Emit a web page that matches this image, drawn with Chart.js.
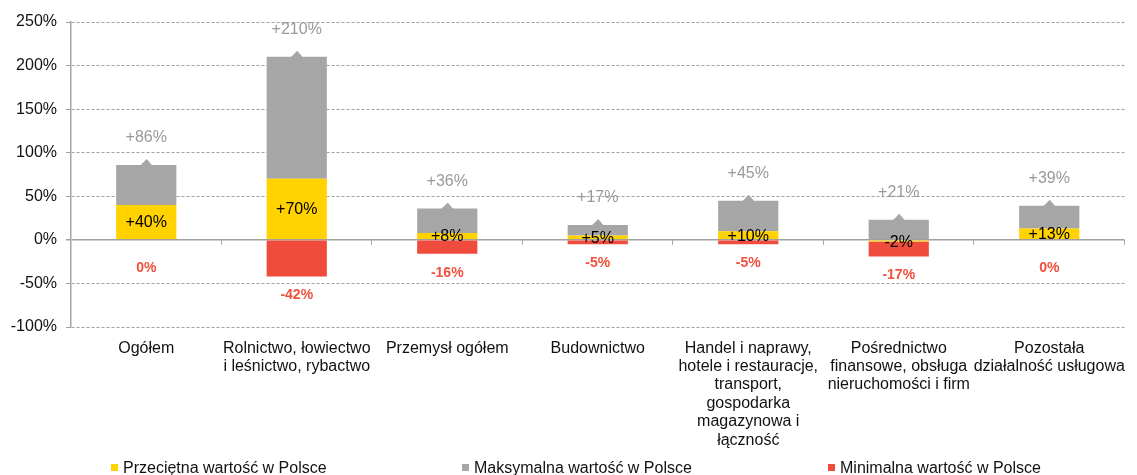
<!DOCTYPE html>
<html>
<head>
<meta charset="utf-8">
<script src="https://cdn.jsdelivr.net/npm/chart.js@4.4.1/dist/chart.umd.min.js"></script>
<style>
  html, body { margin: 0; padding: 0; background: #fff; }
  #wrap { position: relative; width: 1137px; height: 475px; overflow: hidden; }
  #c { position: absolute; left: 0; top: 0; }
  .leg { position: absolute; top: 459px; height: 18px; line-height: 18px;
         font-family: 'Liberation Sans', Arial, sans-serif; font-size: 16px; color: #111; white-space: nowrap; }
  .leg i { position: absolute; left: 0; top: 5px; width: 7px; height: 7px; }
  .leg span { position: absolute; left: 12px; top: 0; }
</style>
</head>
<body>
<div id="wrap">
  <canvas id="c" width="1137" height="475"></canvas>
  <div class="leg" id="leg0" style="left:111px"><i></i><span></span></div>
  <div class="leg" id="leg1" style="left:462px"><i></i><span></span></div>
  <div class="leg" id="leg2" style="left:828px"><i></i><span></span></div>
</div>
<script>
// ---- data ----
const categories = [
  'Ogółem',
  ['Rolnictwo, łowiectwo', 'i leśnictwo, rybactwo'],
  'Przemysł ogółem',
  'Budownictwo',
  ['Handel i naprawy,', 'hotele i restauracje,', 'transport,', 'gospodarka', 'magazynowa i', 'łączność'],
  ['Pośrednictwo', 'finansowe, obsługa', 'nieruchomości i firm'],
  ['Pozostała', 'działalność usługowa']
];
const avgValues = [40, 70, 8, 5, 10, -2, 13];
const maxValues = [86, 210, 36, 17, 45, 21, 39];
const minValues = [0, -42, -16, -5, -5, -17, 0];
const yTickValues = [-100, -50, 0, 50, 100, 150, 200, 250];
const seriesNames = ['Przeciętna wartość w Polsce', 'Maksymalna wartość w Polsce', 'Minimalna wartość w Polsce'];
const seriesColors = ['#FFD200', '#A6A6A6', '#EF4C3D'];

// grey segment stacks on top of the average value up to the maximum
const greySegment = maxValues.map((m, i) => m - avgValues[i]);

// legend
seriesNames.forEach((n, i) => {
  const el = document.getElementById('leg' + i);
  el.querySelector('i').style.background = seriesColors[i];
  el.querySelector('span').textContent = n;
});

const FONT = "'Liberation Sans', Arial, sans-serif";
Chart.defaults.font.family = FONT;
Chart.defaults.font.size = 16;
Chart.defaults.color = '#111';

const fmtSigned = v => (v > 0 ? '+' + v : '' + v) + '%';

const annotate = {
  id: 'annotate',
  afterDatasetsDraw(chart) {
    const ctx = chart.ctx;
    const xs = chart.scales.x, ys = chart.scales.y;
    const y0 = ys.getPixelForValue(0);
    ctx.save();
    // small tick marks on the zero line at category boundaries
    ctx.strokeStyle = '#A6A6A6';
    ctx.lineWidth = 1;
    const n = categories.length;
    for (let i = 1; i <= n; i++) {
      const x = Math.round(xs.left + i * xs.width / n) - 0.5;
      ctx.beginPath(); ctx.moveTo(x, y0); ctx.lineTo(x, y0 + 5); ctx.stroke();
    }
    // callout peaks on top of grey bars
    const greyMeta = chart.getDatasetMeta(1);
    ctx.fillStyle = seriesColors[1];
    greyMeta.data.forEach(el => {
      ctx.beginPath();
      ctx.moveTo(el.x - 6, el.y + 0.5);
      ctx.lineTo(el.x + 0.5, el.y - 6);
      ctx.lineTo(el.x + 6, el.y + 0.5);
      ctx.closePath();
      ctx.fill();
    });
    ctx.textAlign = 'center';
    ctx.textBaseline = 'middle';
    // max labels
    ctx.font = '16px ' + FONT;
    ctx.fillStyle = '#999999';
    greyMeta.data.forEach((el, i) => {
      ctx.fillText(fmtSigned(maxValues[i]), el.x, el.y - 27);
    });
    // average labels
    ctx.fillStyle = '#000';
    chart.getDatasetMeta(0).data.forEach((el, i) => {
      ctx.fillText(fmtSigned(avgValues[i]), el.x, (el.y + el.base) / 2 + 1);
    });
    // min labels
    ctx.font = 'bold 14px ' + FONT;
    ctx.fillStyle = '#F0503C';
    chart.getDatasetMeta(2).data.forEach((el, i) => {
      const v = minValues[i];
      const bottom = v === 0 ? y0 : Math.max(el.y, el.base);
      ctx.fillText(v + '%', el.x, bottom + (v === 0 ? 28 : 19));
    });
    ctx.restore();
  }
};

new Chart(document.getElementById('c'), {
  type: 'bar',
  data: {
    labels: categories,
    datasets: [
      { label: seriesNames[0], data: avgValues, backgroundColor: seriesColors[0] },
      { label: seriesNames[1], data: greySegment, backgroundColor: seriesColors[1] },
      { label: seriesNames[2], data: minValues, backgroundColor: seriesColors[2] }
    ]
  },
  options: {
    responsive: false,
    animation: false,
    events: [],
    layout: { padding: { top: 22, right: 2, left: 0, bottom: 0 } },
    datasets: { bar: { categoryPercentage: 1, barPercentage: 0.4 } },
    plugins: { legend: { display: false }, tooltip: { enabled: false } },
    scales: {
      x: {
        stacked: true,
        grid: { display: false, drawTicks: false },
        border: { display: false },
        ticks: { padding: 12, color: '#111', font: { size: 16, lineHeight: 1.15 }, maxRotation: 0, autoSkip: false },
        afterFit(s) { s.height = 148; }
      },
      y: {
        stacked: true,
        min: -100, max: 250,
        afterBuildTicks(s) { s.ticks = yTickValues.map(v => ({ value: v })); },
        ticks: { callback: v => v + '%', padding: 9, color: '#111', font: { size: 16 } },
        grid: {
          color: '#A0A0A0',
          lineWidth: c => (c.tick && c.tick.value === 0 ? 1.5 : 1),
          drawTicks: true, tickLength: 5
        },
        border: {
          display: true, color: '#A6A6A6', width: 1.5,
          dash: c => (c.tick && c.tick.value === 0 ? [] : [3, 2])
        },
        afterFit(s) { s.width = 71; }
      }
    }
  },
  plugins: [annotate]
});
</script>
</body>
</html>
